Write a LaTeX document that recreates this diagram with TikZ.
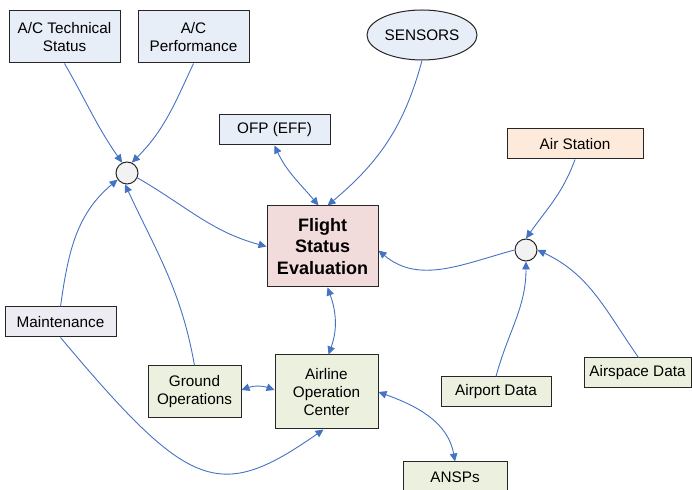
\documentclass[tikz,border=0pt]{standalone}
\usepackage{fontspec}
\setmainfont{Liberation Sans}
\usetikzlibrary{arrows.meta,shapes.geometric}
\definecolor{lblue}{HTML}{E8EEF7}
\definecolor{peach}{HTML}{FDEADA}
\definecolor{pinkr}{HTML}{F2DCDB}
\definecolor{lav}{HTML}{EEECF3}
\definecolor{lgreen}{HTML}{EBF1DE}
\definecolor{cgray}{HTML}{F2F2F2}
\definecolor{arrblue}{HTML}{4472C4}
\tikzset{
  box/.style={draw=black!85, line width=1pt, inner sep=0pt, align=center,
    font=\fontsize{15.3}{18}\selectfont},
  hub/.style={circle, draw=black!85, line width=1pt, fill=cgray, minimum size=22pt, inner sep=0pt},
  link/.style={draw=arrblue, line width=0.9pt, -{Triangle[length=8pt,width=7.5pt]}},
  dlink/.style={draw=arrblue, line width=0.9pt, {Triangle[length=8pt,width=7.5pt]}-{Triangle[length=8pt,width=7.5pt]}}
}
\begin{document}
\begin{tikzpicture}[x=1pt,y=1pt]
\useasboundingbox (0,0) rectangle (692,489);
\begin{scope}
\clip (0,0) rectangle (692,489);
\node[box, fill=lblue, minimum width=111pt, minimum height=52pt] (act) at (64.5,452) {A/C Technical\\Status};
\node[box, fill=lblue, minimum width=111pt, minimum height=52pt] (acp) at (193.5,452) {A/C\\Performance};
\node[box, fill=lblue, minimum width=111pt, minimum height=30pt] (ofp) at (274.5,359) {OFP (EFF)};
\node[box, ellipse, fill=lblue, minimum width=110pt, minimum height=50pt] (sen) at (422,454) {SENSORS};
\node[box, fill=peach, minimum width=136pt, minimum height=30pt] (air) at (575,345) {Air Station};
\node[hub] (cl) at (127,316) {};
\node[hub] (cr) at (526,239) {};
\node[box, fill=pinkr, minimum width=111pt, minimum height=81pt, font=\fontsize{18}{21.5}\selectfont\bfseries] (fse) at (322.5,242.5) {Flight\\Status\\Evaluation};
\node[box, fill=lav, minimum width=111pt, minimum height=30pt] (mnt) at (60.5,167) {Maintenance};
\node[box, fill=lgreen, minimum width=93pt, minimum height=52pt] (gnd) at (194.5,97) {Ground\\Operations};
\node[box, fill=lgreen, minimum width=103pt, minimum height=74pt] (aoc) at (326.5,97) {Airline\\Operation\\Center};
\node[box, fill=lgreen, minimum width=110pt, minimum height=30pt] (apt) at (496,97) {Airport Data};
\node[box, fill=lgreen, minimum width=107pt, minimum height=30pt] (asp) at (637.5,116) {Airspace Data};
\node[box, fill=lgreen, minimum width=104pt, minimum height=30pt] (ansp) at (455,12) {ANSPs};

\draw[link] (act.south) to[out=-60,in=125] (cl.115);
\draw[link] (acp.south) to[out=-115,in=45] (cl.65);
\draw[link] (cl.-25) to[out=-30,in=165] (fse.west);
\draw[dlink] (ofp.south) to[out=-65,in=130] ([xshift=-4pt]fse.north);
\draw[link] (sen.south) to[out=-105,in=40] ([xshift=5pt]fse.north);
\draw[link] (air.south) to[out=-110,in=55] (cr.north);
\draw[link] (cr.west) to[out=195,in=-40] ([yshift=-4pt]fse.east);
\draw[link] (apt.north) to[out=75,in=-90] (cr.south);
\draw[link] ([xshift=1pt]asp.north) to[out=125,in=-25] (cr.east);
\draw[link] (mnt.north) to[out=82,in=220] (cl.215);
\draw[link] (gnd.north) to[out=100,in=-65] (cl.-100);
\draw[dlink] ([xshift=5pt]fse.south) to[out=-70,in=70] ([xshift=2pt]aoc.north);
\draw[dlink] ([yshift=2pt]gnd.east) to[out=20,in=160] ([yshift=2pt]aoc.west);
\draw[link] (mnt.south) .. controls +(-50:200) and +(-145:128) .. ([xshift=-3pt]aoc.south);
\draw[dlink] (aoc.east) to[out=-20,in=100] (ansp.north);
\end{scope}
\end{tikzpicture}
\end{document}
